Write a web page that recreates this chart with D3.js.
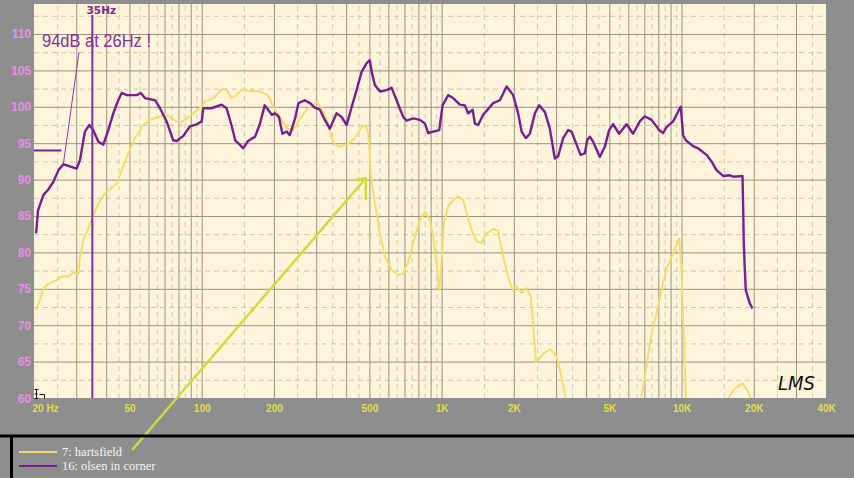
<!DOCTYPE html>
<html>
<head>
<meta charset="utf-8">
<script src="https://cdn.jsdelivr.net/npm/d3@7"></script>
<style>
  html, body { margin: 0; padding: 0; background: #8e8e8e; }
  svg { display: block; }
</style>
</head>
<body>
<svg id="chart" width="854" height="478"></svg>
<script>
// ---- measurement data: frequency (Hz) and SPL (dB) ----
const olsenFreq = [20.4,20.8,21.9,22.9,24.1,25.3,26.5,27.8,30.1,31.1,
  32.6,34.0,35.3,37.1,38.9,40.8,42.8,44.9,46.4,48.7,
  53.6,55.7,58.0,63.9,67.0,71.4,76.1,78.6,83.8,89.3,
  95.3,100,101.5,110,121,127,133,138,144,149,
  156,167,175,183,196,202,210,217,226,233,
  245,253,269,283,296,311,326,342,365,383,
  402,422,442,464,487,502,511,527,553,590,
  619,649,692,714,761,812,852,879,922,977,
  1009,1065,1117,1191,1250,1290,1346,1376,1420,1490,
  1640,1749,1865,1987,2084,2154,2244,2332,2447,2550,
  2693,2825,2964,3060,3210,3368,3480,3651,3794,3954,
  4042,4148,4280,4564,4788,4990,5186,5494,5898,6282,
  6700,7028,7496,8064,8378,8656,9224,9834,9928,10150,
  10416,11172,11720,12706,13332,13986,14900,15886,16398,17948,
  18052,18174,18350,18528,19248,19752];
const olsenDb = [82.6,85.8,87.9,88.6,89.7,91.3,92.1,91.9,91.5,92.7,
  96.6,97.5,96.8,95.2,94.8,96.8,99.1,100.9,101.9,101.6,
  101.6,101.9,101.2,100.9,99.8,98.0,95.4,95.3,96.0,97.3,
  97.6,98.0,99.8,99.8,100.3,99.8,97.5,95.4,94.8,94.3,
  95.3,95.9,97.7,100.2,98.9,99.1,98.6,96.3,96.6,96.1,
  98.4,100.5,100.9,100.5,99.9,99.6,98.2,97.0,99.1,98.6,
  97.5,100.0,102.3,104.8,106.0,106.4,104.8,103.0,102.1,102.3,
  102.6,100.9,98.6,98.1,98.4,98.2,97.7,96.4,96.6,96.8,
  100.2,101.6,101.2,100.3,100.2,99.1,99.6,97.7,97.5,98.9,
  100.5,100.9,102.8,101.6,99.1,96.6,95.7,96.3,99.1,100.2,
  99.3,97.0,92.9,93.2,95.7,96.8,96.6,94.8,93.4,93.6,
  95.4,95.9,95.2,93.1,94.5,96.8,97.6,96.3,97.6,96.3,
  98.0,98.7,98.2,96.8,96.4,97.2,98.0,99.8,100.0,96.1,
  95.4,94.6,94.3,93.4,92.5,91.3,90.5,90.6,90.4,90.5,
  86.7,81.3,77.6,74.8,73.0,72.3];

// null = response below the bottom of the scale
const hartsFreq = [20.4,21.2,21.9,23.3,24.9,26.1,27.8,29.1,30.6,31.1,
  32.1,33.7,35.3,37.1,39.5,42.2,44.5,46.4,49.4,52.7,
  57.1,60.9,65.9,71.4,76.1,81.2,86.6,92.2,100,103,
  112,121,127,133,140,147,156,175,189,202,
  215,229,241,253,269,287,303,316,334,348,
  359,377,408,435,464,483,494,499,506,519,
  536,553,580,619,659,692,726,761,812,852,
  893,922,953,977,999,1022,1065,1117,1172,1230,
  1271,1333,1399,1467,1539,1640,1720,1805,1894,1975,
  2052,2154,2258,2354,2406,2470,2650,2844,3012,3160,
  3316,5000,6808,7144,7496,7862,8248,8656,9084,9528,
  9770,9996,10150,10316,10450,12500,15394,16670,17948,18938,
  19564];
const hartsDb = [72.1,73.5,75.1,75.8,76.2,76.7,76.7,77.2,77.1,79.4,
  81.7,83.3,85.1,86.7,88.1,88.9,89.5,91.3,93.6,95.7,
  97.5,98.2,98.6,98.9,98.2,97.8,98.4,99.1,100.0,100.7,
  101.2,102.4,102.3,101.2,101.6,102.4,102.2,102.1,101.6,99.6,
  98.2,96.9,96.8,98.0,99.3,100.2,100.6,99.8,98.0,95.7,
  94.8,94.5,94.9,95.7,97.2,97.4,96.4,94.5,90.8,88.1,
  85.4,82.6,79.4,77.6,76.9,77.1,78.7,81.3,84.5,85.6,
  84.5,82.2,78.5,74.8,78.5,84.0,86.3,87.2,87.7,87.2,
  85.4,83.1,81.5,81.3,82.6,83.2,83.0,79.4,76.7,74.8,
  75.4,74.4,75.1,73.9,70.2,64.9,66.1,66.7,65.7,62.9,
  59.5,null,60.2,64.3,68.9,71.6,74.8,77.8,79.4,81.0,
  81.9,78.0,70.7,64.3,59.0,null,59.6,61.3,62.0,60.9,
  59.6];

// ---- axes ----
const yTickValues = [60,65,70,75,80,85,90,95,100,105,110];
const xTickValues = [20,50,100,200,500,1000,2000,5000,10000,20000,40000];
const xTickLabels = ["20 Hz","50","100","200","500","1K","2K","5K","10K","20K","40K"];

// ---- legend + notes ----
const seriesNames = ["7: hartsfield", "16: olsen in corner"];
const seriesColors = ["#f3dc6a", "#7a1d8e"];
const markerFreq = 35, markerLabel = "35Hz";
const noteText = "94dB at 26Hz !", noteFreq = 26, noteDb = 94;
const notePointerFrom = [30.8, 107.5], notePointerTo = [26.5, 92.1];
const arrowFrom = [51.7, 53.0], arrowTo = [483, 90.2];

// ---- layout ----
const W = 854, H = 478;
const plot = { left: 34, right: 826, top: 4, bottom: 398 };
const x = d3.scaleLog().domain([20, 40000]).range([plot.left, plot.right]);
const y = d3.scaleLinear().domain([60, 114.12]).range([plot.bottom, plot.top]);

const svg = d3.select("#chart");
svg.append("rect").attr("width", W).attr("height", H).attr("fill", "#8e8e8e");
svg.append("rect")
  .attr("x", plot.left).attr("y", plot.top)
  .attr("width", plot.right - plot.left).attr("height", plot.bottom - plot.top)
  .attr("fill", "#fdf5db");

// grid positions: whole multiples solid, half multiples dashed
const solidF = [], dashF = [];
for (let dec = 10; dec <= 10000; dec *= 10) {
  for (let m = 1; m <= 9; m++) {
    const s = m * dec, h = (m + 0.5) * dec;
    if (s > 20 && s < 40000) solidF.push(s);
    if (h > 20 && h < 40000) dashF.push(h);
  }
}
const solidDb = d3.range(65, 111, 5);
const dashDb = d3.range(62.5, 114, 5);
const ph = plot.bottom - plot.top, pw = plot.right - plot.left;

function gridX(values, color, dash) {
  svg.append("g").attr("transform", `translate(0,${plot.bottom})`)
    .call(d3.axisBottom(x).tickValues(values).tickSize(-ph).tickFormat(""))
    .call(g => g.select(".domain").remove())
    .call(g => g.selectAll("line").attr("stroke", color).attr("stroke-dasharray", dash));
}
function gridY(values, color, dash) {
  svg.append("g").attr("transform", `translate(${plot.left},0)`)
    .call(d3.axisLeft(y).tickValues(values).tickSize(-pw).tickFormat(""))
    .call(g => g.select(".domain").remove())
    .call(g => g.selectAll("line").attr("stroke", color).attr("stroke-dasharray", dash));
}
gridX(dashF, "#cfc6ae", "5,4");
gridY(dashDb, "#cfc6ae", "5,4");
gridX(solidF, "#9b9281", null);
gridY(solidDb, "#9b9281", null);

// tick labels
svg.append("g").attr("transform", `translate(0,${plot.bottom})`)
  .call(d3.axisBottom(x).tickValues(xTickValues).tickSize(0).tickPadding(0)
    .tickFormat((d, i) => xTickLabels[i]))
  .call(g => g.select(".domain").remove())
  .call(g => g.selectAll("text")
    .attr("y", 14).attr("dy", 0)
    .attr("fill", "#e2df4a")
    .attr("font-family", "'Liberation Sans', Arial, sans-serif")
    .attr("font-weight", "bold").attr("font-size", 10)
    .attr("text-anchor", (d, i) => i === 0 ? "start" : "middle")
    .attr("dx", (d, i) => i === 0 ? -2 : 0));

svg.append("g").attr("transform", `translate(${plot.left - 3},0)`)
  .call(d3.axisLeft(y).tickValues(yTickValues).tickSize(0).tickPadding(0))
  .call(g => g.select(".domain").remove())
  .call(g => g.selectAll("text")
    .attr("dy", 4)
    .attr("fill", "#e88fe6")
    .attr("font-family", "'Liberation Sans', Arial, sans-serif")
    .attr("font-weight", "bold").attr("font-size", 12));

// curves
svg.append("clipPath").attr("id", "plotClip")
  .append("rect").attr("x", plot.left).attr("y", plot.top).attr("width", pw).attr("height", ph);

const line = d3.line()
  .defined(d => d.db !== null)
  .x(d => x(d.f)).y(d => y(d.db));

const hartsData = hartsFreq.map((f, i) => ({ f, db: hartsDb[i] }));
const olsenData = olsenFreq.map((f, i) => ({ f, db: olsenDb[i] }));

const curves = svg.append("g").attr("clip-path", "url(#plotClip)");
curves.append("path").datum(hartsData).attr("d", line)
  .attr("fill", "none").attr("stroke", seriesColors[0]).attr("stroke-width", 2)
  .attr("stroke-linejoin", "round");
curves.append("path").datum(olsenData).attr("d", line)
  .attr("fill", "none").attr("stroke", seriesColors[1]).attr("stroke-width", 2.4)
  .attr("stroke-linejoin", "round");

// 35 Hz marker
const notes = svg.append("g");
notes.append("line")
  .attr("x1", x(markerFreq)).attr("x2", x(markerFreq))
  .attr("y1", 15).attr("y2", plot.bottom)
  .attr("stroke", "#8a2a9c").attr("stroke-width", 2);
notes.append("text")
  .attr("x", x(markerFreq) + 9).attr("y", 14)
  .attr("text-anchor", "middle")
  .attr("font-family", "'DejaVu Sans', Verdana, sans-serif")
  .attr("font-weight", "bold").attr("font-size", 10.5)
  .attr("fill", "#7e2690").text(markerLabel);

// 26 Hz note
notes.append("text")
  .attr("x", 42).attr("y", 47)
  .attr("font-family", "'Liberation Sans', Arial, sans-serif")
  .attr("font-size", 19)
  .attr("textLength", 109).attr("lengthAdjust", "spacingAndGlyphs")
  .attr("fill", "#86309a").text(noteText);
notes.append("line")
  .attr("x1", x(notePointerFrom[0])).attr("y1", y(notePointerFrom[1]))
  .attr("x2", x(notePointerTo[0])).attr("y2", y(notePointerTo[1]))
  .attr("stroke", "#8a3a9c").attr("stroke-width", 1);
notes.append("line")
  .attr("x1", x(20)).attr("x2", x(noteFreq))
  .attr("y1", y(noteDb)).attr("y2", y(noteDb))
  .attr("stroke", "#7a1d8e").attr("stroke-width", 2);

// arrow towards the 500 Hz drop
const ax1 = x(arrowFrom[0]), ay1 = y(arrowFrom[1]);
const ax2 = x(arrowTo[0]), ay2 = y(arrowTo[1]);
const back = Math.atan2(ay1 - ay2, ax1 - ax2);
const spread = 0.71;
const arrowColor = "#cfdc3c";
notes.append("line")
  .attr("x1", ax1).attr("y1", ay1).attr("x2", ax2).attr("y2", ay2)
  .attr("stroke", arrowColor).attr("stroke-width", 2.5).attr("stroke-linecap", "round");
notes.append("path")
  .attr("d", `M${ax2 + 22 * Math.cos(back - spread)},${ay2 + 22 * Math.sin(back - spread)}` +
             `L${ax2},${ay2}` +
             `L${ax2 + 10 * Math.cos(back + spread)},${ay2 + 10 * Math.sin(back + spread)}`)
  .attr("fill", "none").attr("stroke", arrowColor).attr("stroke-width", 2.5)
  .attr("stroke-linejoin", "round");

// LMS signature
svg.append("text")
  .attr("x", 778).attr("y", 390)
  .attr("font-family", "'DejaVu Sans', sans-serif")
  .attr("font-style", "italic").attr("font-size", 19)
  .attr("textLength", 37).attr("lengthAdjust", "spacingAndGlyphs")
  .attr("fill", "#111").text("LMS");

// small cursor glyph in the corner
svg.append("path")
  .attr("d", "M34.5,389.5h4 M36.5,389.5v9 M34.5,394h3 M34.5,398.5h4 M39.5,394.5h5v4")
  .attr("fill", "none").attr("stroke", "#111").attr("stroke-width", 1);

// legend panel
svg.append("line").attr("x1", 0).attr("x2", W).attr("y1", 436).attr("y2", 436)
  .attr("stroke", "#000").attr("stroke-width", 3);
svg.append("line").attr("x1", 11.5).attr("x2", 11.5).attr("y1", 436).attr("y2", H)
  .attr("stroke", "#000").attr("stroke-width", 3);

const legend = svg.append("g");
seriesNames.forEach((name, i) => {
  const ly = 452 + i * 14;
  legend.append("line").attr("x1", 19).attr("x2", 57).attr("y1", ly).attr("y2", ly)
    .attr("stroke", seriesColors[i]).attr("stroke-width", 2);
  legend.append("text").attr("x", 62).attr("y", ly + 4)
    .attr("font-family", "'Liberation Serif', 'Times New Roman', serif")
    .attr("font-size", 12.5).attr("fill", "#f4f4f4").text(name);
});
</script>
</body>
</html>
